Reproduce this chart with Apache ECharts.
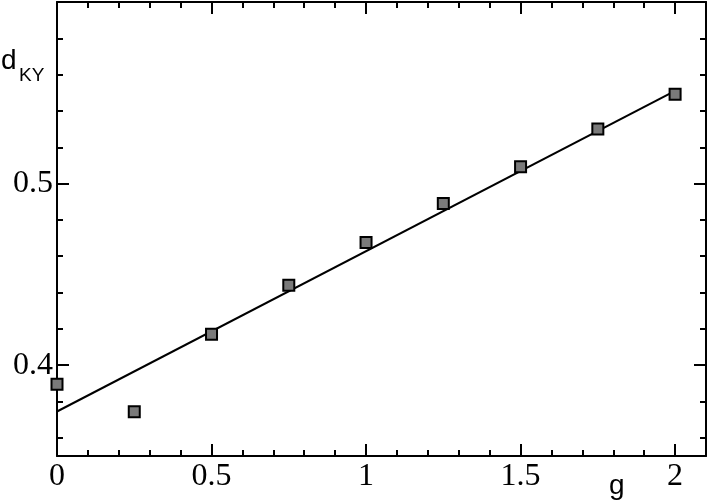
<!DOCTYPE html>
<html><head><meta charset="utf-8">
<script src="https://cdn.jsdelivr.net/npm/echarts@6/dist/echarts.min.js"></script>
<style>html,body{margin:0;padding:0;background:#fff}#c{width:708px;height:502px}</style>
</head><body><div id="c"></div>
<script>
// data
var gValues = [0, 0.25, 0.5, 0.75, 1.0, 1.25, 1.5, 1.75, 2.0];
var dkyValues = [0.3895, 0.3743, 0.4170, 0.4440, 0.4675, 0.4890, 0.5093, 0.5300, 0.5492];
var fitX = [0, 2];
var fitY = [0.3745, 0.5510];
var xMajorTicks = [0, 0.5, 1, 1.5, 2];
var xMinorTicks = [0.1,0.2,0.3,0.4,0.6,0.7,0.8,0.9,1.1,1.2,1.3,1.4,1.6,1.7,1.8,1.9];
var yMajorTicks = [0.4, 0.5];
var yMinorTicks = [0.36,0.38,0.42,0.44,0.46,0.48,0.52,0.54,0.56,0.58];

var XMIN = 0, XMAX = 2.1, YMIN = 0.35, YMAX = 0.6;
var lineStyle = {color:'#000', width:2};
function xAx(pos, ticks, len, showLine, showLabel){
  return {type:'value', position:pos, min:XMIN, max:XMAX,
    axisLine:{show:showLine, onZero:false, lineStyle:lineStyle},
    axisTick:{show:true, inside:true, length:len, customValues:ticks, lineStyle:lineStyle},
    axisLabel:{show:showLabel, customValues:ticks, margin:5, color:'#000',
      fontFamily:'Liberation Serif', fontSize:32},
    splitLine:{show:false}};
}
function yAx(pos, ticks, len, showLine, showLabel){
  return {type:'value', position:pos, min:YMIN, max:YMAX,
    axisLine:{show:showLine, onZero:false, lineStyle:lineStyle},
    axisTick:{show:true, inside:true, length:len, customValues:ticks, lineStyle:lineStyle},
    axisLabel:{show:showLabel, customValues:ticks, margin:4, color:'#000',
      fontFamily:'Liberation Serif', fontSize:32},
    splitLine:{show:false}};
}
var pts = gValues.map(function(g,i){return [g, dkyValues[i]];});
var fit = fitX.map(function(x,i){return [x, fitY[i]];});

var chart = echarts.init(document.getElementById('c'), null, {renderer:'canvas'});
chart.setOption({
  animation:false,
  backgroundColor:'#fff',
  grid:{left:57, right:2, top:2, bottom:46, containLabel:false},
  xAxis:[
    xAx('bottom', xMajorTicks, 12, true, true),
    xAx('bottom', xMinorTicks, 6, false, false),
    xAx('top', xMajorTicks, 12, true, false),
    xAx('top', xMinorTicks, 6, false, false)
  ],
  yAxis:[
    yAx('left', yMajorTicks, 12, true, true),
    yAx('left', yMinorTicks, 6, false, false),
    yAx('right', yMajorTicks, 12, true, false),
    yAx('right', yMinorTicks, 6, false, false)
  ],
  series:[
    {type:'line', data:fit, xAxisIndex:0, yAxisIndex:0, showSymbol:false, symbol:'none',
     lineStyle:{color:'#000', width:2}, z:2},
    {type:'scatter', data:pts, xAxisIndex:0, yAxisIndex:0, symbol:'rect', symbolSize:11,
     itemStyle:{color:'#7a7a7a', borderColor:'#000', borderWidth:2, opacity:1}, z:3}
  ],
  graphic:[
    {type:'text', left:1, top:47, style:{text:'d', fontFamily:'Liberation Sans', fontSize:28, fill:'#000'}},
    {type:'text', left:19, top:66, style:{text:'KY', fontFamily:'Liberation Sans', fontSize:19, fill:'#000'}},
    {type:'text', left:609, top:472, style:{text:'g', fontFamily:'Liberation Sans', fontSize:28, fill:'#000'}}
  ]
});
</script></body></html>
